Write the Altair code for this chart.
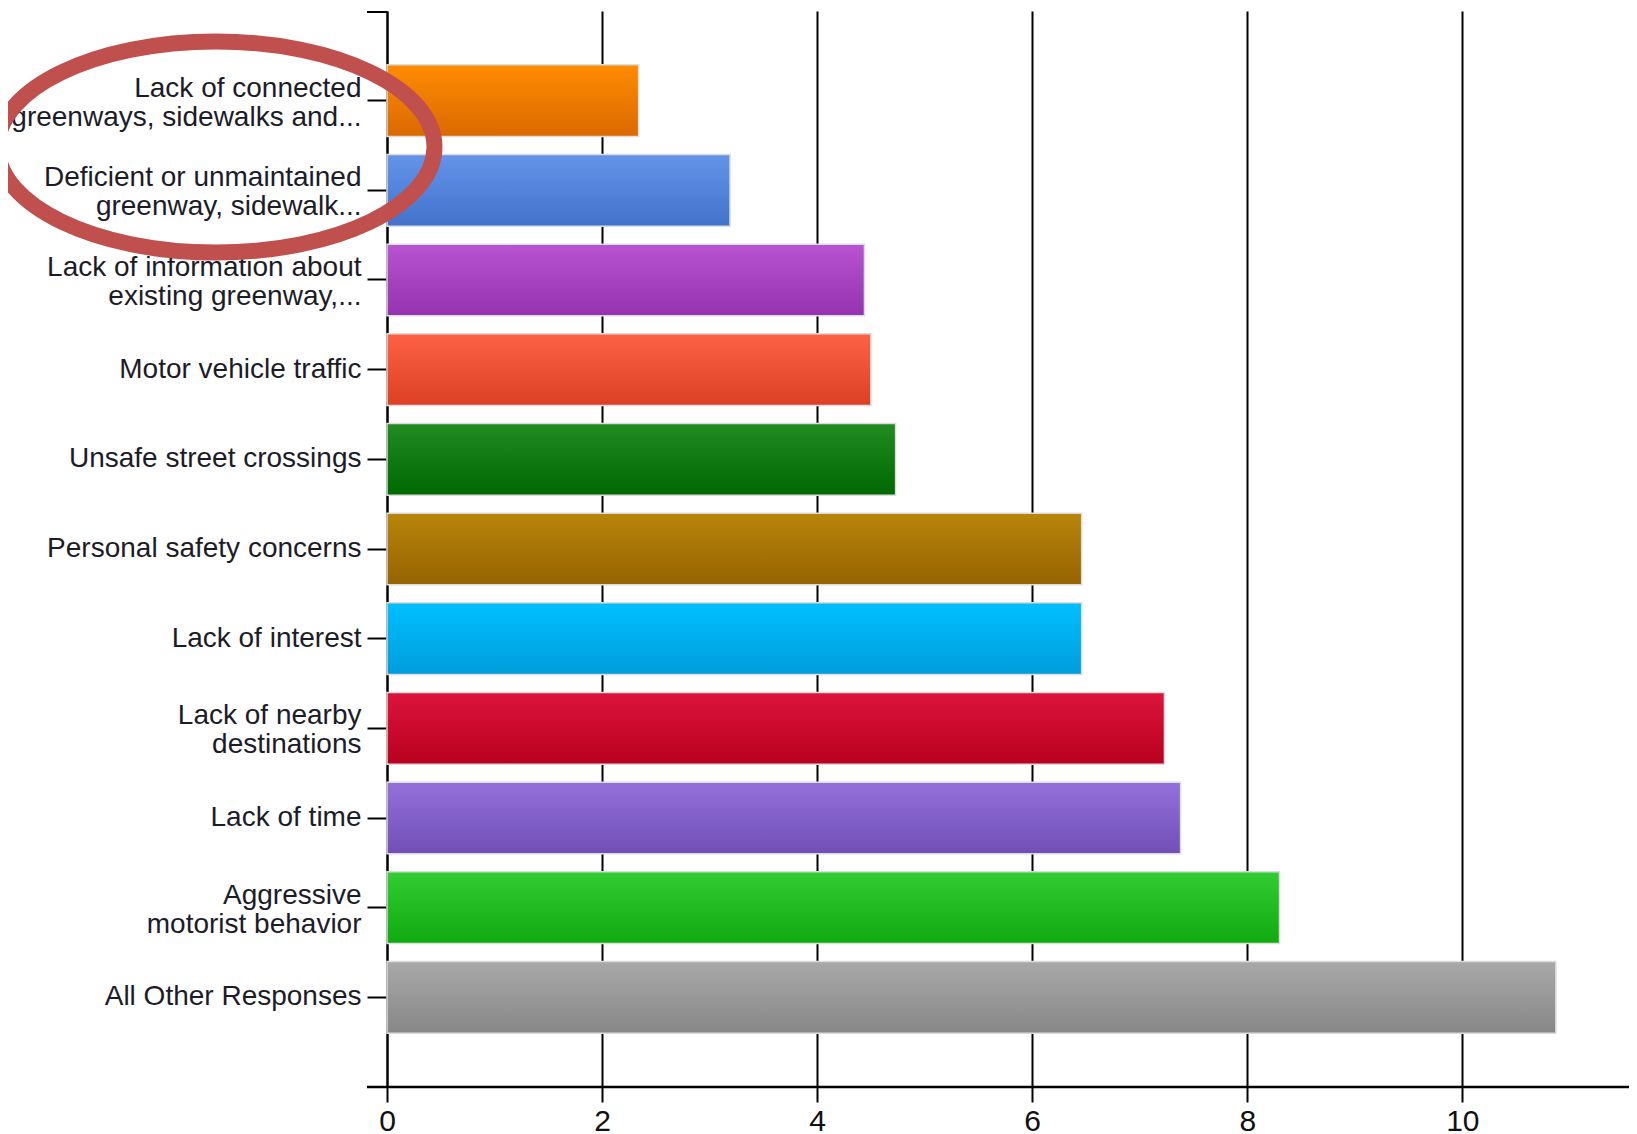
import altair as alt
import pandas as pd

categories = [
    "Lack of connected\ngreenways, sidewalks and...",
    "Deficient or unmaintained\ngreenway, sidewalk...",
    "Lack of information about\nexisting greenway,...",
    "Motor vehicle traffic",
    "Unsafe street crossings",
    "Personal safety concerns",
    "Lack of interest",
    "Lack of nearby\ndestinations",
    "Lack of time",
    "Aggressive\nmotorist behavior",
    "All Other Responses",
]
values = [2.34, 3.19, 4.44, 4.50, 4.73, 6.46, 6.46, 7.23, 7.38, 8.30, 10.87]
top_colors = ["#FF8C00", "#6494EA", "#B953D2", "#FD6146", "#228B22", "#B8860B",
              "#00BFFF", "#DC143C", "#9370DB", "#32CD32", "#A9A9A9"]
bottom_colors = ["#DA6900", "#4272CA", "#9532AF", "#DB4024", "#006800", "#956300",
                 "#009DDC", "#B9001E", "#714FB6", "#10AA10", "#878787"]
x_ticks = [0, 2, 4, 6, 8, 10]

df = pd.DataFrame({"category": categories, "value": values})

W, H = 1242, 1076

x_enc = alt.X(
    "value:Q",
    scale=alt.Scale(domain=[0, 11.55], nice=False, zero=True),
    axis=alt.Axis(
        title=None, values=x_ticks, format="d", grid=True, gridColor="black",
        gridWidth=2, gridOpacity=1, tickSize=15, tickWidth=2, tickColor="black",
        domain=False, labelFont="Liberation Sans", labelFontSize=30, labelFlush=False,
        labelColor="#111111", labelPadding=4, zindex=0,
    ),
)
y_enc = alt.Y(
    "category:N",
    sort=categories,
    scale=alt.Scale(domain=categories, paddingInner=0.2, paddingOuter=0.6),
    axis=alt.Axis(
        title=None, labelExpr="split(datum.label, '\\n')", labelFont="Liberation Sans",
        labelFontSize=28, labelColor="#1c1c28", labelLineHeight=29, labelLimit=0,
        labelOffset={"condition": {"test": "indexof(datum.label, '\\n') >= 0", "value": -12},
                     "value": 0},
        tickSize=20, tickWidth=2, tickColor="black", domainColor="black",
        domainWidth=2, labelPadding=6, grid=False, zindex=0,
    ),
)

layers = []
for cat, top, bot in zip(categories, top_colors, bottom_colors):
    grad = alt.LinearGradient(
        gradient="linear", x1=0, x2=0, y1=0, y2=1,
        stops=[alt.GradientStop(offset=0, color=top), alt.GradientStop(offset=1, color=bot)],
    )
    layers.append(
        alt.Chart(df)
        .transform_filter(alt.FieldEqualPredicate(field="category", equal=cat))
        .mark_bar(color=grad, stroke="#dcdcdc", strokeWidth=1.5)
        .encode(x=x_enc, y=y_enc)
    )

one = pd.DataFrame({"a": [0]})
bottom_line = alt.Chart(one).mark_rule(color="black", strokeWidth=2.5).encode(
    x=alt.value(-20), x2=alt.value(W), y=alt.value(H)
)
top_tick = alt.Chart(one).mark_rule(color="black", strokeWidth=2).encode(
    x=alt.value(-20), x2=alt.value(0), y=alt.value(1)
)
ellipse = alt.Chart(one).mark_point(
    shape="M -1 0 A 1 0.483 0 1 1 1 0 A 1 0.483 0 1 1 -1 0 Z",
    size=190969, filled=False, stroke="#C0504D", strokeWidth=16, opacity=1,
).encode(x=alt.value(-171), y=alt.value(136))

chart = alt.layer(*layers, bottom_line, top_tick, ellipse).properties(
    width=W, height=H,
    background="white",
    autosize=alt.AutoSizeParams(type="none"),
    padding={"left": 379, "top": 3, "right": 0, "bottom": 48},
).configure_view(stroke=None)

chart.save("out.html", embed_options={"renderer": "svg", "actions": False})
